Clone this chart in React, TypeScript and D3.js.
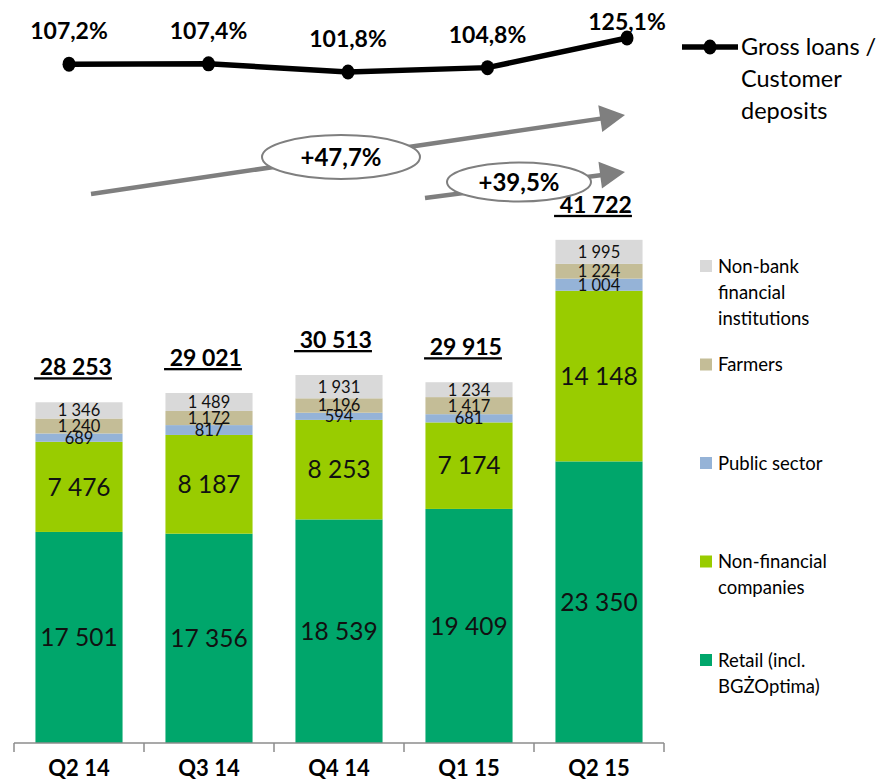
import React from 'react';
import * as d3 from 'd3';

const quarters = ['Q2 14', 'Q3 14', 'Q4 14', 'Q1 15', 'Q2 15'];
const retail = [17501, 17356, 18539, 19409, 23350];
const nonFinancial = [7476, 8187, 8253, 7174, 14148];
const publicSector = [689, 817, 594, 681, 1004];
const farmers = [1240, 1172, 1196, 1417, 1224];
const nonBank = [1346, 1489, 1931, 1234, 1995];
const totals = [28253, 29021, 30513, 29915, 41722];
const loanToDeposit = [107.2, 107.4, 101.8, 104.8, 125.1];

const seriesKeys = ['retail', 'nonFinancial', 'publicSector', 'farmers', 'nonBank'];
const seriesValues: Record<string, number[]> = { retail, nonFinancial, publicSector, farmers, nonBank };
const seriesLabels: Record<string, string[]> = {
  nonBank: ['Non-bank', 'financial', 'institutions'],
  farmers: ['Farmers'],
  publicSector: ['Public sector'],
  nonFinancial: ['Non-financial', 'companies'],
  retail: ['Retail (incl.', 'BGŻOptima)'],
};
const seriesColors: Record<string, string> = {
  retail: '#00A66B',
  nonFinancial: '#99CC00',
  publicSector: '#95B3D7',
  farmers: '#C4BD97',
  nonBank: '#D9D9D9',
};
const bigLabelKeys = ['retail', 'nonFinancial'];
const legendOrder = ['nonBank', 'farmers', 'publicSector', 'nonFinancial', 'retail'];
const lineLegend = ['Gross loans /', 'Customer', 'deposits'];

const locale = d3.formatLocale({ decimal: ',', thousands: '\u00a0', grouping: [3], currency: ['', ''] });
const fmtInt = locale.format(',d');
const fmtPct = locale.format('.1f');

const FONT = 'Lato, "Open Sans", sans-serif';

export default function App() {
  const W = 881, H = 780;
  const baseY = 743;
  const x = d3.scaleBand<string>().domain(quarters).range([14, 664]).paddingInner(0.33).paddingOuter(0.165);
  const y = d3.scaleLinear().domain([0, 42000]).range([baseY, baseY - 42000 * 0.01206]);
  const xl = d3.scalePoint<string>().domain(quarters).range([69, 627]);
  const yl = d3.scaleLinear().domain([90, 130]).range([89.2, 30.9]);

  const rows = quarters.map((q, i) => {
    const r: any = { q };
    seriesKeys.forEach(k => (r[k] = seriesValues[k][i]));
    return r;
  });
  const stacked = d3.stack<any>().keys(seriesKeys)(rows);

  const linePath = d3.line<number>()
    .x((_, i) => xl(quarters[i])!)
    .y(d => yl(d))(loanToDeposit)!;

  const step = x.step();
  const bw = x.bandwidth();
  const gridX0 = 14;

  const yoy = (totals[4] / totals[0] - 1) * 100;
  const qoq = (totals[4] / totals[3] - 1) * 100;

  const arrow = (x1: number, y1: number, x2: number, y2: number) => {
    const ang = Math.atan2(y2 - y1, x2 - x1);
    const L = 25, Wd = 13.5;
    const bx = x2 - L * Math.cos(ang), by = y2 - L * Math.sin(ang);
    const px = -Math.sin(ang) * Wd, py = Math.cos(ang) * Wd;
    return (
      <g>
        <line x1={x1} y1={y1} x2={bx + 2 * Math.cos(ang)} y2={by + 2 * Math.sin(ang)} stroke="#7F7F7F" strokeWidth={4.5} />
        <polygon points={`${x2},${y2} ${bx + px},${by + py} ${bx - px},${by - py}`} fill="#7F7F7F" />
      </g>
    );
  };

  return (
    <svg width={W} height={H} style={{ position: 'absolute', left: 0, top: 0, background: '#fff' }} fontFamily={FONT}>
      {/* bars */}
      {stacked.map(layer => (
        <g key={layer.key}>
          {layer.map((d, i) => (
            <rect key={i} x={x(quarters[i])} y={y(d[1])} width={bw} height={y(d[0]) - y(d[1])} fill={seriesColors[layer.key]} />
          ))}
        </g>
      ))}
      {/* segment labels */}
      {stacked.map(layer => (
        <g key={'l' + layer.key}>
          {layer.map((d, i) => {
            const big = bigLabelKeys.includes(layer.key);
            return (
              <text key={i} x={x(quarters[i])! + bw / 2} y={(y(d[0]) + y(d[1])) / 2} dy="0.36em"
                textAnchor="middle" fontSize={big ? 24.5 : 16.5} fill="#111">
                {fmtInt(seriesValues[layer.key][i])}
              </text>
            );
          })}
        </g>
      ))}
      {/* totals */}
      {totals.map((t, i) => (
        <text key={i} x={x(quarters[i])! + bw / 2 - 6} y={y(stacked[4][i][1]) - 27} textAnchor="middle"
          fontSize={23} fontWeight="bold" fill="#000" style={{ textDecoration: 'underline' }}>
          {'\u00a0' + fmtInt(t)}
        </text>
      ))}
      {/* axis */}
      <line x1={gridX0} x2={gridX0 + step * 5} y1={baseY} y2={baseY} stroke="#8C8C8C" strokeWidth={1.5} />
      {d3.range(6).map(i => (
        <line key={i} x1={gridX0 + step * i} x2={gridX0 + step * i} y1={baseY} y2={baseY + 9} stroke="#8C8C8C" strokeWidth={1.5} />
      ))}
      {quarters.map(q => (
        <text key={q} x={x(q)! + bw / 2} y={776} textAnchor="middle" fontSize={22} fontWeight="bold" fill="#000">{q}</text>
      ))}
      {/* growth arrows */}
      {arrow(91, 194, 625, 115)}
      <ellipse cx={341} cy={157} rx={79} ry={22} fill="#fff" stroke="#7F7F7F" strokeWidth={2} />
      <text x={341} y={157} dy="0.36em" textAnchor="middle" fontSize={24} fontWeight="bold">{'+' + fmtPct(yoy) + '%'}</text>
      {arrow(425, 198, 625, 172)}
      <ellipse cx={519} cy={182} rx={72} ry={19.5} fill="#fff" stroke="#7F7F7F" strokeWidth={2} />
      <text x={519} y={182} dy="0.36em" textAnchor="middle" fontSize={24} fontWeight="bold">{'+' + fmtPct(qoq) + '%'}</text>
      {/* line */}
      <path d={linePath} fill="none" stroke="#000" strokeWidth={5.5} />
      {loanToDeposit.map((v, i) => (
        <g key={i}>
          <ellipse cx={xl(quarters[i])} cy={yl(v)} rx={6.5} ry={7.5} fill="#000" />
          <text x={xl(quarters[i])} y={Math.max(yl(v) - 25, 30)} textAnchor="middle" fontSize={23} fontWeight="bold">
            {fmtPct(v) + '%'}
          </text>
        </g>
      ))}
      {/* line legend */}
      <line x1={682} x2={738} y1={47} y2={47} stroke="#000" strokeWidth={5.5} />
      <ellipse cx={710} cy={47} rx={6.5} ry={7.5} fill="#000" />
      {lineLegend.map((t, i) => (
        <text key={t} x={741} y={47 + i * 32} dy="0.36em" fontSize={23.5} fill="#000">{t}</text>
      ))}
      {/* bar legend */}
      {legendOrder.map((k, i) => {
        const cy = 266 + i * 98.5;
        return (
          <g key={k}>
            <rect x={700} y={cy - 6} width={12} height={12} fill={seriesColors[k]} />
            {seriesLabels[k].map((t, j) => (
              <text key={j} x={718} y={cy + j * 26} dy="0.36em" fontSize={18.5} fill="#000">{t}</text>
            ))}
          </g>
        );
      })}
    </svg>
  );
}
